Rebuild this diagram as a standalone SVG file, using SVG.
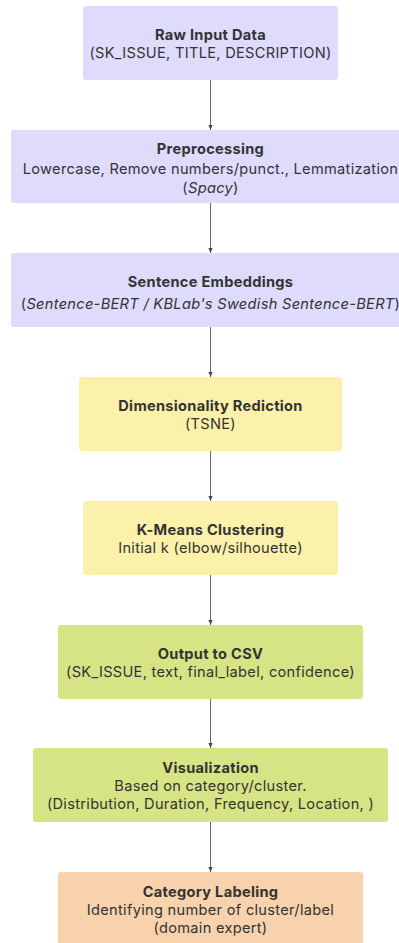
<svg xmlns="http://www.w3.org/2000/svg" width="399" height="943" viewBox="0 0 399 943">
  <style>
    .t { font-family: Inter, "Noto Sans", "Liberation Sans", sans-serif; font-size: 14.6px; letter-spacing: 0.3px; fill: #333333; text-anchor: middle; }
    .b { font-weight: 700; }
    .i { font-style: italic; }
    .purple { fill: #DEDBFC; }
    .yellow { fill: #FBF1AA; }
    .green { fill: #D6E485; }
    .orange { fill: #F7D2AC; }
    .edge { stroke: #666666; stroke-width: 1; fill: none; marker-end: url(#arrow); }
  </style>
  <defs>
    <marker id="arrow" viewBox="0 0 6 6" refX="6" refY="3" markerWidth="5" markerHeight="5" orient="auto" markerUnits="userSpaceOnUse">
      <path d="M0,0.5 L6,3 L0,5.5 z" fill="#444444"/>
    </marker>
  </defs>
  <rect width="399" height="943" fill="#FFFFFF"/>

  <g id="edges">
    <line class="edge" x1="210.5" y1="80" x2="210.5" y2="130"/>
    <line class="edge" x1="210.5" y1="203" x2="210.5" y2="253"/>
    <line class="edge" x1="210.5" y1="327" x2="210.5" y2="377"/>
    <line class="edge" x1="210.5" y1="451" x2="210.5" y2="501"/>
    <line class="edge" x1="210.5" y1="575" x2="210.5" y2="625"/>
    <line class="edge" x1="210.5" y1="699" x2="210.5" y2="748"/>
    <line class="edge" x1="210.5" y1="822" x2="210.5" y2="872"/>
  </g>

  <g id="raw-input">
    <rect class="purple" x="83" y="6" width="255" height="74" rx="3"/>
    <text class="t b" x="210.5" y="40">Raw Input Data</text>
    <text class="t" x="210.5" y="58">(SK_ISSUE, TITLE, DESCRIPTION)</text>
  </g>

  <g id="preprocessing">
    <rect class="purple" x="11" y="130" width="400" height="73" rx="3"/>
    <text class="t b" x="210.5" y="154">Preprocessing</text>
    <text class="t" x="210.5" y="174">Lowercase, Remove numbers/punct., Lemmatization</text>
    <text class="t" x="210.5" y="193">(<tspan class="i">Spacy</tspan>)</text>
  </g>

  <g id="embeddings">
    <rect class="purple" x="11" y="253" width="400" height="74" rx="3"/>
    <text class="t b" x="210.5" y="287">Sentence Embeddings</text>
    <text class="t" x="210.5" y="309">(<tspan class="i">Sentence-BERT /  KBLab's Swedish Sentence-BERT</tspan>)</text>
  </g>

  <g id="dim-reduction">
    <rect class="yellow" x="79" y="377" width="263" height="74" rx="3"/>
    <text class="t b" x="210.5" y="411">Dimensionality Rediction</text>
    <text class="t" x="210.5" y="429">(TSNE)</text>
  </g>

  <g id="kmeans">
    <rect class="yellow" x="83" y="501" width="255" height="74" rx="3"/>
    <text class="t b" x="210.5" y="535">K-Means Clustering</text>
    <text class="t" x="210.5" y="553">Initial k (elbow/silhouette)</text>
  </g>

  <g id="output-csv">
    <rect class="green" x="58" y="625" width="305" height="74" rx="3"/>
    <text class="t b" x="210.5" y="659">Output to CSV</text>
    <text class="t" x="210.5" y="677">(SK_ISSUE, text, final_label, confidence)</text>
  </g>

  <g id="visualization">
    <rect class="green" x="33" y="748" width="355" height="74" rx="3"/>
    <text class="t b" x="210.5" y="773">Visualization</text>
    <text class="t" x="210.5" y="791">Based on category/cluster.</text>
    <text class="t" x="210.5" y="809">(Distribution, Duration, Frequency, Location, )</text>
  </g>

  <g id="category-labeling">
    <rect class="orange" x="58" y="872" width="305" height="80" rx="3"/>
    <text class="t b" x="210.5" y="897">Category Labeling</text>
    <text class="t" x="210.5" y="915">Identifying number of cluster/label</text>
    <text class="t" x="210.5" y="933">(domain expert)</text>
  </g>
</svg>
